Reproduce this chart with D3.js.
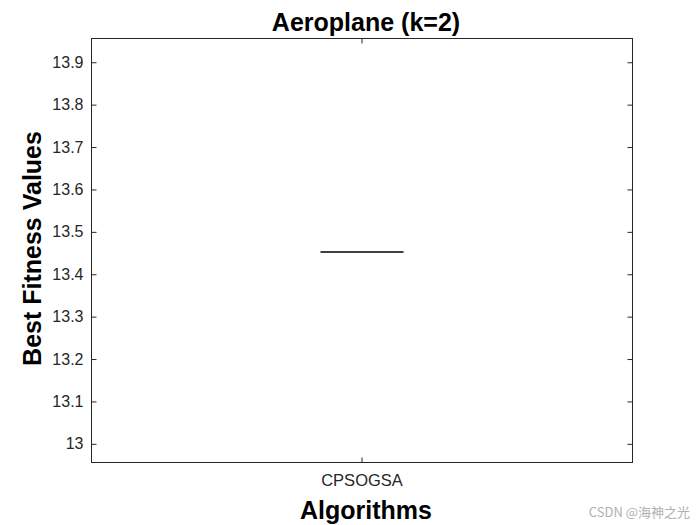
<!DOCTYPE html>
<html><head><meta charset="utf-8">
<script src="https://cdn.jsdelivr.net/npm/d3@7"></script>
<style>body{margin:0;background:#fff}svg{display:block}text{font-family:"Liberation Sans",Arial,sans-serif}</style>
</head><body>
<svg id="c" width="700" height="525"></svg>
<script>
const categories = ["CPSOGSA"];
const values = [[13.4525,13.4525,13.4525,13.4525,13.4525]];
const yTicks = [13,13.1,13.2,13.3,13.4,13.5,13.6,13.7,13.8,13.9];
const yDomain = [12.9560,13.9560];

const svg = d3.select("#c");
const L=91.5,R=632.5,T=38.5,B=462.5;
const x = d3.scaleBand().domain(categories).range([L,R]).padding(0);
const y = d3.scaleLinear().domain(yDomain).range([B,T]);

svg.append("rect").attr("x",L).attr("y",T).attr("width",R-L).attr("height",B-T)
  .attr("fill","none").attr("stroke","#262626").attr("stroke-width",1);

const ya = d3.axisLeft(y).tickValues(yTicks).tickSize(-5).tickPadding(8).tickFormat(d3.format("~g"));
const gy = svg.append("g").attr("transform",`translate(${L},0)`).call(ya);
gy.select(".domain").remove();
gy.selectAll("line").attr("stroke","#262626");
gy.selectAll("text").attr("font-size",16).attr("fill","#262626");
const yr = d3.axisRight(y).tickValues(yTicks).tickSize(-5).tickFormat("");
const gyr = svg.append("g").attr("transform",`translate(${R},0)`).call(yr);
gyr.select(".domain").remove(); gyr.selectAll("line").attr("stroke","#262626");

const xa = d3.axisBottom(x).tickSize(-5).tickPadding(12);
const gx = svg.append("g").attr("transform",`translate(0,${B})`).call(xa);
gx.select(".domain").remove();
gx.selectAll("line").attr("stroke","#262626");
gx.selectAll("text").attr("font-size",16.5).attr("fill","#262626");
const xt = d3.axisTop(x).tickSize(-5).tickFormat("");
const gxt = svg.append("g").attr("transform",`translate(0,${T})`).call(xt);
gxt.select(".domain").remove(); gxt.selectAll("line").attr("stroke","#262626");

const boxW = 83;
categories.forEach((c,i)=>{
  const v = values[i].slice().sort(d3.ascending);
  const med=d3.quantile(v,0.5);
  const cx = x(c)+x.bandwidth()/2;
  svg.append("line").attr("x1",cx-boxW/2).attr("x2",cx+boxW/2).attr("y1",y(med)).attr("y2",y(med))
    .attr("stroke","#000").attr("stroke-width",1.3);
});

svg.append("text").attr("x",(L+R)/2+4).attr("y",31).attr("text-anchor","middle")
  .attr("font-size",25).attr("font-weight","bold").attr("fill","#000").text("Aeroplane (k=2)");
svg.append("text").attr("x",(L+R)/2+4).attr("y",519).attr("text-anchor","middle")
  .attr("font-size",25).attr("font-weight","bold").attr("fill","#000").text("Algorithms");
svg.append("text").attr("transform",`translate(41,${(T+B)/2-2}) rotate(-90)`).attr("text-anchor","middle")
  .attr("font-size",25).attr("font-weight","bold").attr("fill","#000").text("Best Fitness Values");

svg.append("text").attr("x",690).attr("y",517).attr("text-anchor","end")
  .attr("font-size",13).attr("fill","#b0b0b0")
  .style("font-family","'Noto Sans CJK SC','Liberation Sans',sans-serif").text("CSDN @海神之光");
</script>
</body></html>
